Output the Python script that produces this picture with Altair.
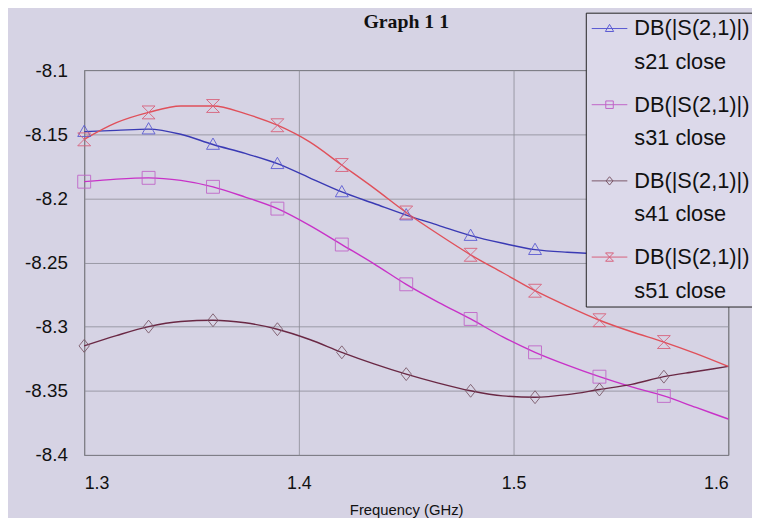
import altair as alt
import pandas as pd

freq = [1.30, 1.315, 1.33, 1.345, 1.36, 1.375, 1.39, 1.405, 1.42, 1.435, 1.45,
        1.465, 1.48, 1.495, 1.51, 1.525, 1.54, 1.555, 1.57, 1.585, 1.60]

s21 = [-8.148, -8.147, -8.146, -8.150, -8.158, -8.165, -8.173, -8.184, -8.195, -8.204, -8.213,
       -8.221, -8.229, -8.235, -8.240, -8.242, -8.243, -8.243, -8.243, -8.243, -8.243]
s31 = [-8.187, -8.185, -8.184, -8.186, -8.191, -8.199, -8.208, -8.221, -8.236, -8.251, -8.267,
       -8.281, -8.294, -8.308, -8.320, -8.330, -8.339, -8.347, -8.354, -8.363, -8.372]
s41 = [-8.315, -8.307, -8.300, -8.296, -8.295, -8.297, -8.302, -8.310, -8.320, -8.329, -8.337,
       -8.344, -8.350, -8.354, -8.355, -8.353, -8.349, -8.345, -8.339, -8.335, -8.331]
s51 = [-8.154, -8.141, -8.133, -8.128, -8.128, -8.134, -8.143, -8.156, -8.174, -8.192, -8.211,
       -8.228, -8.244, -8.258, -8.272, -8.284, -8.295, -8.304, -8.312, -8.321, -8.331]

# marker shown at every other sample (0.03 GHz apart), none at the last point
marker_flags = [1, 0, 1, 0, 1, 0, 1, 0, 1, 0, 1, 0, 1, 0, 1, 0, 1, 0, 1, 0, 0]

series_names = ["DB(|S(2,1)|)\ns21 close", "DB(|S(2,1)|)\ns31 close",
                "DB(|S(2,1)|)\ns41 close", "DB(|S(2,1)|)\ns51 close"]
line_colors = ["#3a3ab4", "#c832c8", "#6a2844", "#e0505a"]
marker_colors = ["#5a5ad2", "#c064c8", "#7a5868", "#d8607a"]

marker_paths = [
    "M0,-1L1,0.75L-1,0.75Z",
    "M-1,-1H1V1H-1Z",
    "M0,-1L0.8,0L0,1L-0.8,0Z",
    "M-1,-1H1L-1,1H1Z",
]
legend_paths = [
    "M-1,0H2.6M0.8,-0.42L1.22,0.3L0.38,0.3Z",
    "M-1,0H2.6M0.42,-0.38H1.18V0.38H0.42Z",
    "M-1,0H2.6M0.8,-0.42L1.15,0L0.8,0.42L0.45,0Z",
    "M-1,0H2.6M0.4,-0.42H1.2L0.4,0.42H1.2Z",
]

rows = []
for name, vals in zip(series_names, [s21, s31, s41, s51]):
    for f, v, m in zip(freq, vals, marker_flags):
        rows.append({"freq": f, "db": v, "series": name, "marker": m})
df = pd.DataFrame(rows)

x_enc = alt.X("freq:Q", title="Frequency (GHz)",
              scale=alt.Scale(domain=[1.3, 1.6], nice=False, zero=False),
              axis=alt.Axis(values=[1.3, 1.4, 1.5, 1.6], format=".1f", labelFontSize=18,
                            labelPadding=20, titleFontSize=15, titlePadding=10,
                            titleFontWeight="normal", ticks=False, domain=False,
                            gridColor="#8c8c96", gridWidth=0.8))
y_enc = alt.Y("db:Q", title=None,
              scale=alt.Scale(domain=[-8.4, -8.1], nice=False, zero=False),
              axis=alt.Axis(values=[-8.1, -8.15, -8.2, -8.25, -8.3, -8.35, -8.4],
                            labelExpr="'-' + format(abs(datum.value), '')", labelFontSize=19,
                            labelPadding=17, ticks=False, domain=False,
                            gridColor="#8c8c96", gridWidth=0.8))

base = alt.Chart(df)

lines = base.mark_line(strokeWidth=1.4, interpolate="monotone").encode(
    x=x_enc, y=y_enc,
    color=alt.Color("series:N", scale=alt.Scale(domain=series_names, range=line_colors), legend=None),
    detail="series:N",
)

points = base.transform_filter("datum.marker == 1").mark_point(
    filled=False, size=170, strokeWidth=0.9, opacity=1
).encode(
    x="freq:Q", y="db:Q",
    shape=alt.Shape("series:N", scale=alt.Scale(domain=series_names, range=marker_paths), legend=None),
    stroke=alt.Stroke("series:N", scale=alt.Scale(domain=series_names, range=marker_colors), legend=None),
)

legend_props = dict(title=None, orient="none", legendX=507, legendY=-58,
                    labelExpr="split(datum.label, '\\n')",
                    labelFontSize=22, labelFont="Liberation Sans",
                    labelColor="#111", labelBaseline="middle",
                    labelOffset=22, labelLimit=400, rowPadding=21,
                    symbolSize=400, symbolStrokeWidth=1,
                    fillColor="#dcd9ea", strokeColor="#222",
                    padding=5)

legend_layer = base.transform_filter("datum.freq < 0").mark_point(
    filled=False, size=400, strokeWidth=1, opacity=1
).encode(
    x="freq:Q", y="db:Q",
    shape=alt.Shape("series:N", scale=alt.Scale(domain=series_names, range=legend_paths),
                    legend=alt.Legend(**legend_props)),
    stroke=alt.Stroke("series:N", scale=alt.Scale(domain=series_names, range=marker_colors),
                      legend=alt.Legend(**legend_props)),
)

chart = alt.layer(lines, points, legend_layer).resolve_scale(
    shape="independent", stroke="independent"
).properties(
    width=651, height=389,
    title=alt.Title("Graph 1 1", font="Liberation Serif", fontSize=20, fontWeight="bold",
                    color="#111", offset=0, dy=20),
    autosize=alt.AutoSizeParams(type="none"),
    padding={"left": 77, "top": 60, "right": 24, "bottom": 61},
    background="#d6d3e4",
).configure(
    style={"guide-label": {"lineHeight": 34}}
).configure_view(
    stroke="#555", strokeWidth=1
).configure_axis(
    labelFont="Liberation Sans", titleFont="Liberation Sans",
    labelColor="#111", titleColor="#111",
)

chart.save("out.html", embed_options={"renderer": "svg", "actions": False})
